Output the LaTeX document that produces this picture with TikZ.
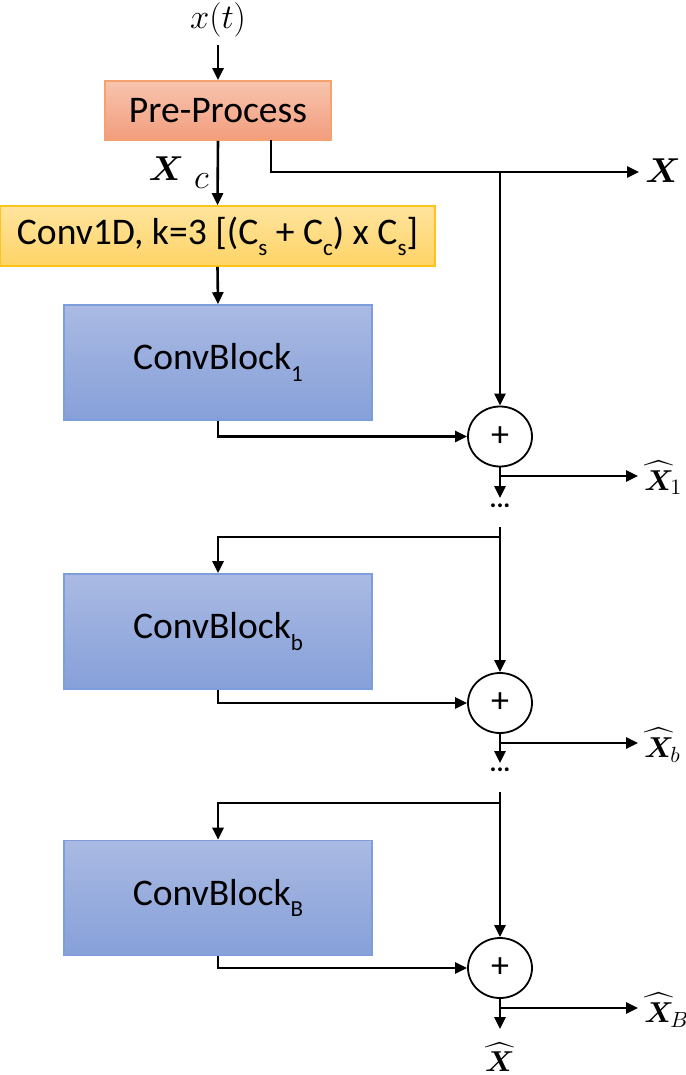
\documentclass[tikz,border=0pt]{standalone}
\usepackage{amsmath}
\usepackage{fontspec}
\setmainfont{Carlito}
\usetikzlibrary{arrows.meta,shapes.geometric}
\definecolor{preTop}{HTML}{F8C4AE}
\definecolor{preBot}{HTML}{F29D7D}
\definecolor{preLine}{HTML}{F5A26E}
\definecolor{cvTop}{HTML}{FFE49E}
\definecolor{cvBot}{HTML}{FFD466}
\definecolor{cvLine}{HTML}{FFC41A}
\definecolor{cbTop}{HTML}{AABAE3}
\definecolor{cbBot}{HTML}{86A0D9}
\definecolor{cbLine}{HTML}{7D9DDC}
\newcommand{\lowsub}[1]{\raisebox{-0.3em}{\fontsize{11.5pt}{12pt}\selectfont #1}}
\begin{document}
\begin{tikzpicture}[x=0.5pt,y=-0.5pt,
  boxtext/.style={font=\fontsize{18.8pt}{22pt}\selectfont, inner sep=0pt, align=center},
  boxpre/.style={boxtext, rectangle, top color=preTop, bottom color=preBot, draw=preLine, line width=0.8pt, minimum width=113pt, minimum height=29.5pt},
  boxconv/.style={boxtext, rectangle, top color=cvTop, bottom color=cvBot, draw=cvLine, line width=0.8pt, minimum width=217.5pt, minimum height=30pt},
  boxblock/.style={boxtext, rectangle, top color=cbTop, bottom color=cbBot, draw=cbLine, line width=0.8pt, minimum width=154pt, minimum height=57.5pt},
  sumnode/.style={ellipse, draw=black, line width=0.9pt, minimum width=32pt, minimum height=30pt, inner sep=0pt, font=\fontsize{18pt}{20pt}\selectfont},
  conn/.style={line width=1.3pt, -{Triangle[length=6pt,width=5.5pt]}},
  mlbl/.style={inner sep=0pt, font=\fontsize{17pt}{20pt}\selectfont},
  hlbl/.style={inner sep=0pt, font=\fontsize{15.5pt}{17pt}\selectfont},
  dotlbl/.style={inner sep=0pt, font=\bfseries\fontsize{13pt}{14pt}\selectfont}
]
\useasboundingbox[fill=white] (0,0) rectangle (685,1075);

% nodes
\node[inner sep=0pt, font=\fontsize{19pt}{21pt}\selectfont] (xt) at (218,20) {$x(t)$};
\node[boxpre] (pre) at (218,110.5) {Pre-Process};
\node[boxconv] (conv) at (217.5,236) {Conv1D, k=3 [(C\lowsub{s} + C\lowsub{c}) x C\lowsub{s}]};
\node[boxblock] (cb1) at (218,362.5) {ConvBlock\lowsub{1}};
\node[boxblock] (cbb) at (218,631.5) {ConvBlock\lowsub{b}};
\node[boxblock] (cbB) at (218,898) {ConvBlock\lowsub{B}};
\node[sumnode] (s1) at (500,436.5) {+};
\node[sumnode] (s2) at (500,703) {+};
\node[sumnode] (s3) at (500,968) {+};

% labels
\node[mlbl, anchor=east] (xc) at (209,173) {$\boldsymbol{X}$\hspace{5pt}\raisebox{-4pt}{$c$}};
\node[mlbl, anchor=west] (xlab) at (645,171) {$\boldsymbol{X}$};
\node[hlbl, anchor=base west] (xh1) at (644,490) {$\widehat{\boldsymbol{X}}_{\!1}$};
\node[hlbl, anchor=base west] (xhb) at (644,757) {$\widehat{\boldsymbol{X}}_{\!b}$};
\node[hlbl, anchor=base west] (xhB) at (644,1022) {$\widehat{\boldsymbol{X}}_{\!B}$};
\node[hlbl, anchor=south] (xhat) at (500,1072) {$\widehat{\boldsymbol{X}}$};
\node[dotlbl] (d1) at (500,506) {...};
\node[dotlbl] (d2) at (500,770) {...};

% coordinates
\coordinate (xtop) at (218,45);
\coordinate (pretap) at (271,140);
\coordinate (xcorner) at (271,172);
\coordinate (xjunc) at (500,172);
\coordinate (xend) at (639,172);
\coordinate (b1) at (500,476);
\coordinate (b1end) at (638,476);
\coordinate (dn1) at (500,498);
\coordinate (t1) at (500,527);
\coordinate (h1) at (500,537);
\coordinate (bb) at (500,743);
\coordinate (bbend) at (638,743);
\coordinate (dn2) at (500,763);
\coordinate (t2) at (500,792);
\coordinate (h2) at (500,803);
\coordinate (bB) at (500,1008);
\coordinate (bBend) at (638,1008);
\coordinate (dn3) at (500,1029);

% connectors
\draw[conn] (xtop) -- (pre.north);
\draw[conn] (pre.south) -- (conv.north);
\draw[conn] (pretap) -- (xcorner) -- (xend);
\draw[conn] (xjunc) -- (s1.north);
\draw[conn] (conv.south) -- (cb1.north);
\draw[conn] (cb1.south) |- (s1.west);
\draw[conn] (s1.south) -- (dn1);
\draw[conn] (b1) -- (b1end);

\draw[conn] (t1) -- (s2.north);
\draw[conn] (h1) -| (cbb.north);
\draw[conn] (cbb.south) |- (s2.west);
\draw[conn] (s2.south) -- (dn2);
\draw[conn] (bb) -- (bbend);

\draw[conn] (t2) -- (s3.north);
\draw[conn] (h2) -| (cbB.north);
\draw[conn] (cbB.south) |- (s3.west);
\draw[conn] (s3.south) -- (dn3);
\draw[conn] (bB) -- (bBend);
\end{tikzpicture}
\end{document}
